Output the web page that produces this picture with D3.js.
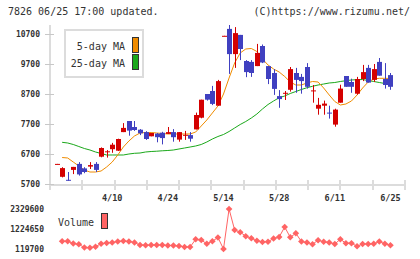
<!DOCTYPE html>
<html>
<head>
<meta charset="utf-8">
<script src="https://cdn.jsdelivr.net/npm/d3@7"></script>
<style>
  body { margin: 0; background: #fff; }
  text { font-family: 'DejaVu Sans Mono', monospace; fill: #333; }
</style>
</head>
<body>
<svg id="canvas"></svg>
<script>
// candle chart with 5/25 day MA and volume
let width = 420
let height = 259

// data
let openP  = [6360,5940,5840,6170,6370,6220,6280,6370,6610,6780,6860,6810,7430,7800,7600,7510,7430,7290,7380,7410,7370,7430,7180,7330,7330,7520,7910,8700,8800,8310,10630,10870,10030,10670,9800,9770,9630,10300,9630,9400,8630,8730,8840,9400,9270,9600,8810,8210,8310,8080,7680,8410,9300,9100,8710,9200,9570,9170,9770,9200,9330]
let highP  = [6370,6260,6100,6270,6430,6260,6430,6430,6920,6830,7070,7210,7730,7800,7800,7530,7460,7400,7400,7440,7600,7530,7430,7470,7430,8080,8510,8700,8970,9170,10640,11000,10930,10670,9830,9830,10370,10350,9630,9530,8830,8800,9600,9570,9370,9730,9000,8570,8480,8310,8210,9010,9300,9210,9270,9670,9670,9700,9900,9730,9400]
let lowP   = [6360,5920,5810,6030,5980,6060,6200,6100,6590,6580,6740,6800,7430,7310,7470,7330,7170,7290,7090,7020,7370,7110,7110,7170,7110,7520,7890,8480,8330,8310,10630,9370,9570,9830,9260,9270,9630,9730,9030,8670,8240,8500,8780,8740,8710,8880,8410,8010,8010,7880,7610,8410,8940,8740,8680,9130,9080,9100,9310,8880,8840]
let closeP = [6370,6230,5830,6270,6020,6100,6330,6170,6900,6790,7010,7200,7570,7480,7500,7390,7200,7400,7260,7230,7430,7260,7430,7340,7210,8000,8510,8510,8370,9130,10640,10030,10730,10200,9430,9400,10070,9750,9200,8870,8530,8740,9530,9170,9130,8940,8820,8340,8380,8070,8180,8880,8940,8940,9200,9430,9080,9530,9310,9000,8940]

let ma5  = [null,6583,6567,6433,6300,6167,6100,6100,6133,6267,6433,6667,6933,7133,7300,7400,7417,7417,7400,7383,7367,7367,7367,7367,7367,7433,7633,7833,8067,8300,8700,9233,9733,10067,10200,10217,10117,9867,9667,9533,9433,9283,9100,9000,9000,9067,9117,9100,8900,8667,8450,8333,8367,8467,8667,8900,9100,9200,9223,9223,9217]
let ma25 = [null,7090,7067,7017,6950,6883,6833,6767,6717,6667,6667,6667,6667,6700,6723,6733,6767,6783,6793,6807,6817,6833,6867,6900,6933,6967,7017,7100,7200,7283,7350,7450,7567,7683,7783,7900,8033,8200,8350,8467,8577,8633,8717,8783,8850,8910,8957,9000,9033,9067,9083,9117,9143,9167,9177,9183,9150,9117,9083,9050,9017]

let volume = [null,545000,545000,423600,379400,202600,186000,246800,412500,451200,478800,534100,561700,534100,478800,340700,324100,340700,340700,340700,313100,313100,285400,230200,230200,655600,616900,407000,550600,755000,119700,2329600,1169400,1047900,826900,710800,572700,506400,523000,699800,782700,1335100,766100,987100,534100,478800,384900,605900,517500,478800,395900,661100,434600,440100,268900,395900,395900,407000,534100,407000,329600]

let priceTicks = [5700, 6700, 7700, 8700, 9700, 10700]
let volTicks = [119700, 1224650, 2329600]
let dateLabels = ['4/10', '4/24', '5/14', '5/28', '6/11', '6/25']
let dateIdx = [10, 20, 30, 40, 50, 60]

let upColor = '#d40000'
let downColor = '#4040c0'
let ma5Color = '#f08c00'
let ma25Color = '#1aa81a'
let volColor = '#ff6464'
let gridColor = '#dcdcdc'

let svg = d3.select('#canvas')
            .attr('width', width)
            .attr('height', height)

let x = d3.scaleLinear().domain([-1, 61]).range([51, 396])
let y = d3.scaleLinear().domain([5700, 10700]).range([184, 34])
let yVol = d3.scaleLinear().domain([119700, 2329600]).range([249, 209])
let xGrid = d3.scaleLinear().domain([0, 11]).range([50, 405])

// header
svg.append('text').attr('x', 8).attr('y', 15).style('font-size', '10px')
   .text('7826 06/25 17:00 updated.')
svg.append('text').attr('x', 410).attr('y', 15).attr('text-anchor', 'end').style('font-size', '10px')
   .text('(C)https://www.rizumu.net/')

// axes
svg.append('line').attr('x1', 50).attr('x2', 50).attr('y1', 25).attr('y2', 186)
   .attr('stroke', gridColor).attr('stroke-width', 2)
svg.append('line').attr('x1', 50).attr('x2', 406).attr('y1', 185).attr('y2', 185)
   .attr('stroke', gridColor).attr('stroke-width', 2)

svg.selectAll('.xtick').data(d3.range(12)).enter().append('line')
   .attr('class', 'xtick')
   .attr('x1', d => Math.round(xGrid(d))).attr('x2', d => Math.round(xGrid(d)))
   .attr('y1', 180).attr('y2', 190)
   .attr('stroke', gridColor).attr('stroke-width', 2)

svg.selectAll('.ytick').data(priceTicks).enter().append('line')
   .attr('class', 'ytick')
   .attr('x1', 45).attr('x2', 54)
   .attr('y1', d => y(d) + 0.5).attr('y2', d => y(d) + 0.5)
   .attr('stroke', '#c8c8c8').attr('stroke-width', 1)

svg.selectAll('.ylab').data(priceTicks).enter().append('text')
   .attr('class', 'ylab')
   .attr('x', 40).attr('y', d => y(d)).attr('dy', '0.35em')
   .attr('text-anchor', 'end')
   .style('font-size', '8px').style('font-weight', 'bold')
   .text(d => d)

svg.selectAll('.xlab').data(dateIdx).enter().append('text')
   .attr('class', 'xlab')
   .attr('x', d => x(d)).attr('y', 201)
   .attr('text-anchor', 'middle')
   .style('font-size', '8.5px').style('font-weight', 'bold')
   .text((d, i) => dateLabels[i])

// moving averages
let maLine = d3.line()
               .defined(d => d !== null)
               .x((d, i) => x(i))
               .y(d => y(d))

svg.append('path').datum(ma25).attr('d', maLine)
   .attr('fill', 'none').attr('stroke', ma25Color).attr('stroke-width', 1)
svg.append('path').datum(ma5).attr('d', maLine)
   .attr('fill', 'none').attr('stroke', ma5Color).attr('stroke-width', 1)

// candles
let candle = svg.selectAll('.candle')
                .data(d3.range(openP.length))
                .enter()
                .append('g')
                .attr('class', 'candle')

let colorOf = (i) => closeP[i] >= openP[i] ? upColor : downColor

candle.append('line')
      .attr('x1', i => Math.round(x(i)) + 0.5).attr('x2', i => Math.round(x(i)) + 0.5)
      .attr('y1', i => y(highP[i])).attr('y2', i => y(lowP[i]))
      .attr('stroke', colorOf).attr('stroke-width', 1)

candle.append('rect')
      .attr('x', i => Math.round(x(i)) - 2)
      .attr('width', 5)
      .attr('y', i => y(Math.max(openP[i], closeP[i])))
      .attr('height', i => Math.max(1, Math.abs(y(openP[i]) - y(closeP[i]))))
      .attr('fill', colorOf)

// legend
svg.append('rect').attr('x', 65).attr('y', 30).attr('width', 78).attr('height', 47)
   .attr('fill', '#fff').attr('stroke', gridColor).attr('stroke-width', 2)

let legendNames = ['5-day MA', '25-day MA']
let legendColors = [ma5Color, ma25Color]
for (let i = 0; i < legendNames.length; i++) {
    svg.append('text').attr('x', 125).attr('y', 49.5 + 17 * i)
       .attr('text-anchor', 'end').style('font-size', '10px')
       .text(legendNames[i])
    svg.append('rect').attr('x', 132.5).attr('y', 37.5 + 17 * i)
       .attr('width', 6).attr('height', 15)
       .attr('fill', legendColors[i]).attr('stroke', '#333').attr('stroke-width', 1)
}

// volume
svg.selectAll('.vlab').data(volTicks).enter().append('text')
   .attr('class', 'vlab')
   .attr('x', 44).attr('y', d => yVol(d)).attr('dy', '0.35em')
   .attr('text-anchor', 'end')
   .style('font-size', '8px').style('font-weight', 'bold')
   .text(d => d)

let volLine = d3.line()
                .defined(d => d !== null)
                .x((d, i) => x(i))
                .y(d => yVol(d))

svg.append('path').datum(volume).attr('d', volLine)
   .attr('fill', 'none').attr('stroke', volColor).attr('stroke-width', 1)

let diamond = d3.symbol().type(d3.symbolSquare).size(22)
svg.selectAll('.vdot')
   .data(volume.map((v, i) => ({ v: v, i: i })).filter(d => d.v !== null))
   .enter().append('path')
   .attr('class', 'vdot')
   .attr('d', diamond)
   .attr('transform', d => 'translate(' + x(d.i) + ',' + yVol(d.v) + ') rotate(45)')
   .attr('fill', volColor)

svg.append('text').attr('x', 58).attr('y', 225.5).style('font-size', '10px').text('Volume')
svg.append('rect').attr('x', 101.5).attr('y', 213.5).attr('width', 6).attr('height', 15)
   .attr('fill', volColor).attr('stroke', '#333').attr('stroke-width', 1)
</script>
</body>
</html>
